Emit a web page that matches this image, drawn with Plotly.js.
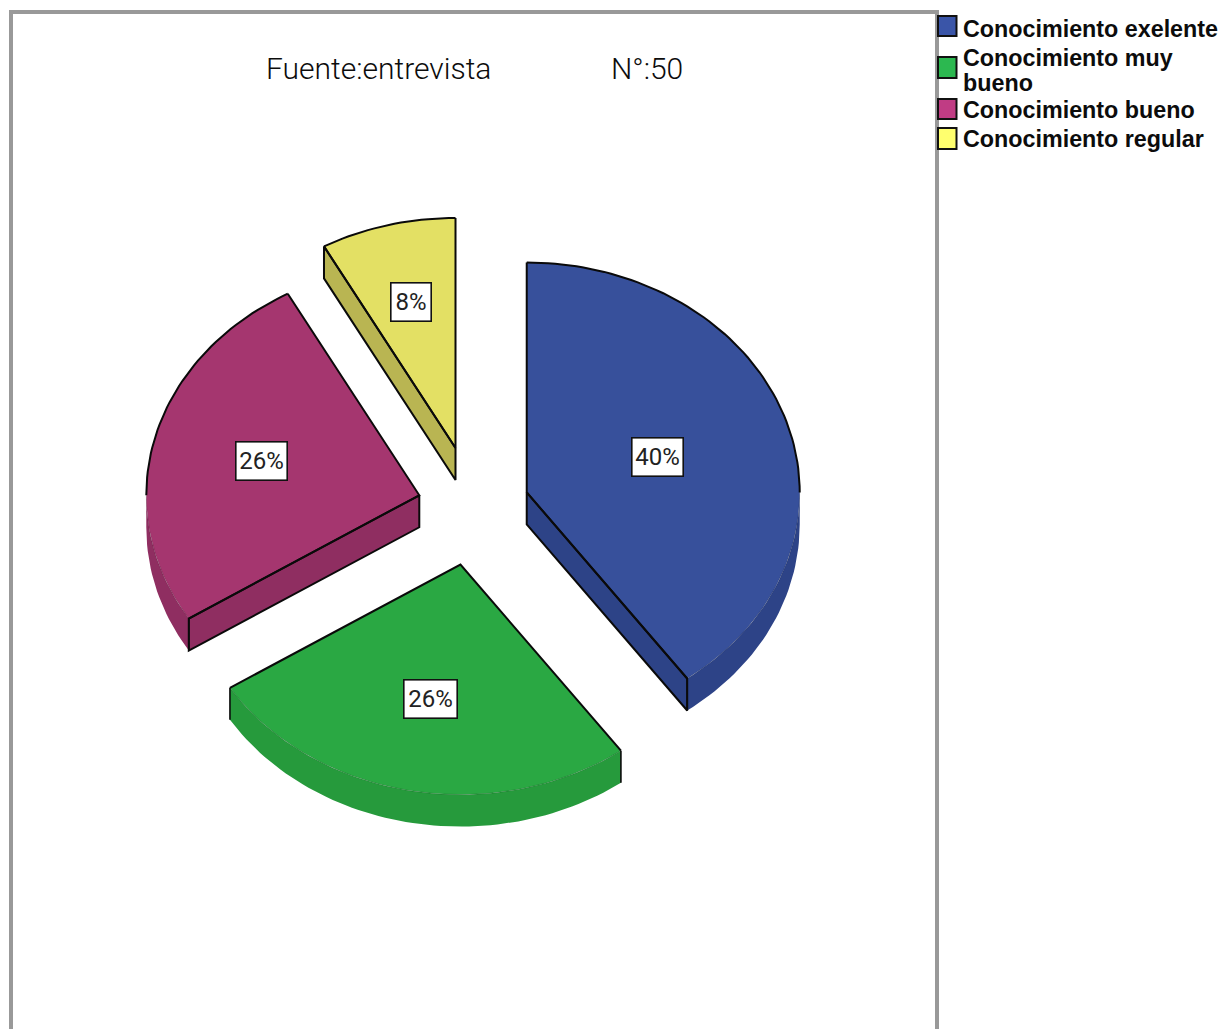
<!DOCTYPE html>
<html>
<head>
<meta charset="utf-8">
<script src="https://cdn.plot.ly/plotly-3.0.1.min.js"></script>
<style>html,body{margin:0;padding:0;background:#fff;overflow:hidden}#chart{width:1227px;height:1029px}</style>
</head>
<body>
<div id="chart"></div>
<script>
// Survey results
const categories = ['Conocimiento exelente', 'Conocimiento muy bueno', 'Conocimiento bueno', 'Conocimiento regular'];
const percentages = [40, 26, 26, 8];
const chartNote = 'Fuente:entrevista';
const sampleNote = 'N°:50';

// Slice styling
const topColors = ['#37509b', '#2aa843', '#a5366f', '#e3e064'];
const wallColors = ['#2d4387', '#269a3c', '#8f2e61', '#b9b552'];
const keyColors = ['#3a55a8', '#2cb850', '#c03c84', '#ffff6e'];
const slicePull = [0.205, 0.255, 0.205, 0.265];
const labelRadius = [0.505, 0.595, 0.595, 0.655];
const labelBoxWidth = [46, 48, 46, 35];
const keyBoxes = [[15, 37], [56, 79], [98, 120], [127, 150]];
const keyLines = [[[categories[0], 29]], [['Conocimiento muy', 58], ['bueno', 83]], [[categories[2], 110]], [[categories[3], 139]]];

// Tilted pie geometry, in plot units
const pie = {cx: 473.5, cy: 507, rx: 273, ry: 230, depth: 32};
const EDGE = '#0a0a0a';
const THIN = 'Roboto, Liberation Sans, Arial, sans-serif';

const rad = d => d * Math.PI / 180;
const total = percentages.reduce((a, b) => a + b, 0);

function apexOf(mid, pull) {
  return [pie.cx + pull * pie.rx * Math.sin(rad(mid)), pie.cy - pull * pie.ry * Math.cos(rad(mid))];
}
function rim(apex, t, drop) {
  return [apex[0] + pie.rx * Math.sin(rad(t)), apex[1] - pie.ry * Math.cos(rad(t)) + (drop || 0)];
}
function arc(apex, from, to, drop) {
  const pts = [];
  const n = Math.max(1, Math.ceil((to - from) / 1.5));
  for (let i = 0; i <= n; i++) pts.push(rim(apex, from + (to - from) * i / n, drop));
  return pts;
}
function polyTrace(pts, color, name) {
  return {
    type: 'scatter', mode: 'lines', x: pts.map(p => p[0]), y: pts.map(p => p[1]),
    fill: 'toself', fillcolor: color, line: {width: 0, color: color},
    hoverinfo: name ? 'text' : 'skip', text: name, showlegend: false
  };
}
function lineTrace(pts, width, color) {
  return {
    type: 'scatter', mode: 'lines', x: pts.map(p => p[0]), y: pts.map(p => p[1]),
    line: {width: width, color: color}, hoverinfo: 'skip', showlegend: false
  };
}

const walls = [], tops = [], strokes = [], annotations = [], shapes = [];
let running = 0;
percentages.forEach((v, i) => {
  const t0 = running / total * 360;
  const t1 = (running + v) / total * 360;
  running += v;
  const mid = (t0 + t1) / 2;
  const apex = apexOf(mid, slicePull[i]);
  const below = [apex[0], apex[1] + pie.depth];

  // Outer wall: only the front half of the rim can be seen
  const w0 = Math.max(t0, 90), w1 = Math.min(t1, 270);
  if (w1 > w0) {
    walls.push(polyTrace(arc(apex, w0, w1, 0).concat(arc(apex, w0, w1, pie.depth).reverse()), wallColors[i]));
    strokes.push(lineTrace(arc(apex, w0, w1, 0), 0.6, 'rgba(0,0,0,0.3)'));
    if (t0 >= 90 && t0 < 270) strokes.push(lineTrace([rim(apex, t0), rim(apex, t0, pie.depth)], 1.6, EDGE));
    if (t1 > 90 && t1 <= 270) strokes.push(lineTrace([rim(apex, t1), rim(apex, t1, pie.depth)], 1.6, EDGE));
  }

  // Cut faces turned towards the viewer
  [[t1, Math.sin(rad(t1)) > 1e-6], [t0, Math.sin(rad(t0)) < -1e-6]].forEach(([t, visible]) => {
    if (!visible) return;
    const quad = [apex, rim(apex, t), rim(apex, t, pie.depth), below];
    walls.push(polyTrace(quad, wallColors[i]));
    strokes.push(lineTrace(quad.concat([apex]), 2, EDGE));
  });

  // Top face and its outline
  tops.push(polyTrace([apex].concat(arc(apex, t0, t1, 0)), topColors[i], categories[i] + ': ' + v + '%'));
  strokes.push(lineTrace([rim(apex, t1), apex, rim(apex, t0)], 2, EDGE));
  if (t0 < 90) strokes.push(lineTrace(arc(apex, t0, Math.min(t1, 90), 0), 2, EDGE));
  if (t1 > 270) strokes.push(lineTrace(arc(apex, Math.max(t0, 270), t1, 0), 2, EDGE));

  // Percentage tag
  const tag = [apex[0] + labelRadius[i] * pie.rx * Math.sin(rad(mid)), apex[1] - labelRadius[i] * pie.ry * Math.cos(rad(mid))];
  annotations.push({
    x: tag[0], y: tag[1], xref: 'x', yref: 'y', text: v + '%', showarrow: false,
    font: {family: THIN, size: 24, weight: 400, color: '#222222'},
    bgcolor: '#ffffff', bordercolor: '#111111', borderwidth: 1.6, borderpad: 2,
    width: labelBoxWidth[i], height: 33, align: 'center', valign: 'middle'
  });

  // Key entry
  const box = keyBoxes[i];
  shapes.push({
    type: 'rect', xref: 'x', yref: 'y', x0: 938, x1: 956.5, y0: box[0] + 1, y1: box[1] - 1,
    fillcolor: keyColors[i], line: {color: '#111111', width: 2}
  });
  keyLines[i].forEach(([text, y]) => annotations.push({
    x: 960.5, y: y, xref: 'x', yref: 'y', text: '<b>' + text + '</b>', showarrow: false,
    xanchor: 'left', yanchor: 'middle', align: 'left',
    font: {family: 'Liberation Sans, Arial, sans-serif', size: 23.3, color: '#0c0c0c'}
  }));
});

// Frame around the plotting area, open at the page edge
shapes.unshift({
  type: 'path', xref: 'x', yref: 'y', path: 'M 11 1029 L 11 12 L 937 12 L 937 1029',
  line: {color: '#999999', width: 4}
});

[[chartNote, 378.5], [sampleNote, 647]].forEach(([text, x]) => annotations.push({
  x: x, y: 68.5, xref: 'x', yref: 'y', text: text, showarrow: false,
  font: {family: THIN, size: 30, weight: 300, color: '#0c0c0c'}
}));

const hiddenAxis = {visible: false, fixedrange: true, showgrid: false, zeroline: false};
Plotly.newPlot('chart', walls.concat(tops, strokes), {
  width: 1227, height: 1029, margin: {l: 0, r: 0, t: 0, b: 0},
  paper_bgcolor: '#ffffff', plot_bgcolor: '#ffffff', showlegend: false,
  xaxis: Object.assign({range: [0, 1227]}, hiddenAxis),
  yaxis: Object.assign({range: [1029, 0]}, hiddenAxis),
  shapes: shapes, annotations: annotations, hovermode: 'closest'
}, {displayModeBar: false});
</script>
</body>
</html>
